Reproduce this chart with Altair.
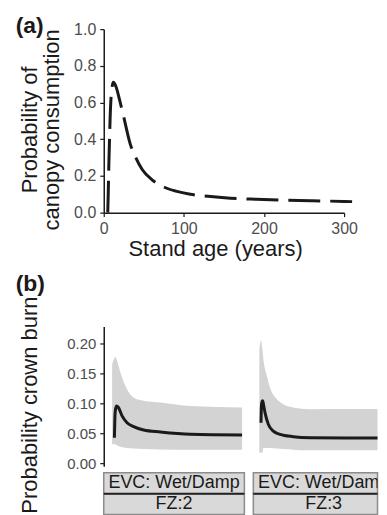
import altair as alt
import pandas as pd

# ---------------- data ----------------
# Panel (a): probability of canopy consumption vs stand age
AGE_A = [5.0, 5.6, 6.3, 7.1, 8.0, 9.0, 10.3, 12.0, 15.0, 20.0, 25.0, 33.0, 40.0, 48.0,
         60.0, 75.0, 90.0, 108.0, 130.0, 158.0, 190.0, 220.0, 260.0, 300.0, 310.0]
PROB_A = [0.0, 0.10, 0.25, 0.38, 0.52, 0.62, 0.68, 0.71, 0.69, 0.61, 0.52, 0.375, 0.30, 0.235,
          0.18, 0.14, 0.117, 0.10, 0.089, 0.079, 0.073, 0.069, 0.065, 0.061, 0.060]

# Panel (b): probability of crown burn, two facets
BAND1_AGE = [13.5, 17.0, 20.7, 25.0, 31.7, 46.4, 61.0, 83.0, 120.0, 186.0, 300.0]
BAND1_LO = [0.032, 0.032, 0.032, 0.030, 0.028, 0.026, 0.025, 0.024, 0.0235, 0.023, 0.023]
BAND1_HI = [0.166, 0.174, 0.178, 0.170, 0.152, 0.124, 0.110, 0.105, 0.102, 0.096, 0.0936]
LINE1_AGE = [18.5, 19.5, 21.0, 23.5, 27.0, 35.4, 46.4, 61.0, 83.0, 120.0, 186.0, 300.0]
LINE1_P = [0.043, 0.075, 0.091, 0.0963, 0.094, 0.0795, 0.068, 0.0617, 0.056, 0.0526, 0.0487, 0.0476]

BAND2_AGE = [8.2, 11.9, 15.0, 17.0, 24.5, 31.7, 46.4, 61.0, 83.0, 120.0, 200.0, 300.0]
BAND2_LO = [0.018, 0.018, 0.018, 0.026, 0.026, 0.026, 0.025, 0.024, 0.023, 0.022, 0.022, 0.022]
BAND2_HI = [0.19, 0.2056, 0.19, 0.175, 0.147, 0.127, 0.1076, 0.099, 0.0936, 0.0908, 0.091, 0.091]
LINE2_AGE = [11.9, 12.5, 13.5, 15.6, 17.5, 20.7, 28.0, 39.0, 53.7, 83.0, 120.0, 200.0, 300.0]
LINE2_P = [0.068, 0.09, 0.101, 0.1047, 0.098, 0.085, 0.0655, 0.054, 0.0487, 0.0448, 0.043, 0.0425, 0.0428]

STRIP_TOP = ["EVC: Wet/Damp", "EVC: Wet/Damp"]
STRIP_BOTTOM = ["FZ:2", "FZ:3"]

A_TICKS_X = [0, 100, 200, 300]
A_TICKS_Y = [0.0, 0.2, 0.4, 0.6, 0.8, 1.0]
B_TICKS_Y = [0.0, 0.05, 0.10, 0.15, 0.20]

# ---------------- style ----------------
FONT = "Liberation Sans"
INK = "#1a1a1a"
LABEL = "#4d4d4d"
BAND = "#d3d3d3"
STRIP_FILL = "#d9d9d9"
STRIP_EDGE = "#8c8c8c"

W_A, H_A = 241, 184
W_B, H_B = 141, 140
W_B2 = 124.5          # second facet is cut by the right edge of the figure
STRIP_H = 42
AGE_PER_PX = 310 / W_B

axis_style = dict(domainColor=INK, domainWidth=1.5, tickColor=INK, tickWidth=1.2, tickSize=4,
                  labelColor=LABEL, labelFont=FONT, titleFont=FONT, titleFontSize=22,
                  titleFontWeight="normal", titleColor=INK, grid=False, labelPadding=4,
                  labelFlush=False)

# ---------------- panel (a) ----------------
df_a = pd.DataFrame({"age": AGE_A, "prob": PROB_A})
line_a = alt.Chart(df_a).mark_line(color=INK, strokeWidth=3, strokeDash=[32, 10],
                                   interpolate="monotone", clip=False).encode(
    x=alt.X("age:Q", scale=alt.Scale(domain=[0, 300], nice=False),
            axis=alt.Axis(values=A_TICKS_X, title="Stand age (years)", titleX=111.7, titleY=26,
                          labelFontSize=16, **axis_style)),
    y=alt.Y("prob:Q", scale=alt.Scale(domain=[0, 1], nice=False),
            axis=alt.Axis(values=A_TICKS_Y, format=".1f",
                          title=["Probability of", "canopy consumption"],
                          titleX=-62, titleY=100.5, titleLineHeight=22,
                          labelFontSize=16, **axis_style)),
)
tag_a = alt.Chart(pd.DataFrame({"t": ["(a)"]})).mark_text(
    font=FONT, fontSize=23, fontWeight="bold", color=INK, align="left", baseline="top"
).encode(x=alt.value(-88.3), y=alt.value(-14), text="t:N")
panel_a = alt.layer(line_a, tag_a).properties(width=W_A, height=H_A)

# ---------------- panel (b) ----------------
yb = alt.Scale(domain=[-0.0045, 0.229], nice=False)


def y_axis_b(show):
    if not show:
        return None
    return alt.Axis(values=B_TICKS_Y, format=".2f", title="Probability crown burn",
                    titleX=-62, titleY=78.3, labelFontSize=15, **axis_style)


def facet_panel(b_age, lo, hi, l_age, lp, show_axis, width, tag=None):
    xb = alt.Scale(domain=[-5, -5 + width * AGE_PER_PX], nice=False)
    dfb = pd.DataFrame({"age": b_age, "lo": lo, "hi": hi})
    dfl = pd.DataFrame({"age": l_age, "p": lp})
    ax = y_axis_b(show_axis)
    band = alt.Chart(dfb).mark_area(color=BAND, interpolate="monotone", clip=True).encode(
        x=alt.X("age:Q", scale=xb, axis=None),
        y=alt.Y("lo:Q", scale=yb, axis=ax, title="Probability crown burn"),
        y2="hi:Q",
    )
    line = alt.Chart(dfl).mark_line(color=INK, strokeWidth=3, interpolate="monotone",
                                    clip=True).encode(
        x=alt.X("age:Q", scale=xb, axis=None),
        y=alt.Y("p:Q", scale=yb, axis=ax, title="Probability crown burn"),
    )
    layers = [band, line]
    if tag:
        layers.append(alt.Chart(pd.DataFrame({"t": [tag]})).mark_text(
            font=FONT, fontSize=23, fontWeight="bold", color=INK, align="left", baseline="top"
        ).encode(x=alt.value(-88.3), y=alt.value(-54), text="t:N"))
    return alt.layer(*layers).properties(width=width, height=H_B)


def strip(top, bottom, width):
    df = pd.DataFrame({"row": ["r1", "r2"], "label": [top, bottom]})
    base = alt.Chart(df).encode(
        y=alt.Y("row:N", scale=alt.Scale(domain=["r1", "r2"], paddingInner=0, paddingOuter=0),
                axis=None))
    rect = base.mark_rect(fill=STRIP_FILL, stroke=STRIP_EDGE, strokeWidth=1.5).encode(
        x=alt.value(0), x2=alt.value(width))
    text = base.mark_text(font=FONT, fontSize=18, color=INK, baseline="middle",
                          clip=True).encode(x=alt.value(W_B / 2), text="label:N")
    div = alt.Chart(df.iloc[:1]).mark_rule(color="#222222", strokeWidth=2).encode(
        x=alt.value(0), x2=alt.value(width), y=alt.value(STRIP_H / 2))
    return alt.layer(rect, div, text).properties(width=width, height=STRIP_H)


p1 = facet_panel(BAND1_AGE, BAND1_LO, BAND1_HI, LINE1_AGE, LINE1_P, True, W_B, "(b)")
p2 = facet_panel(BAND2_AGE, BAND2_LO, BAND2_HI, LINE2_AGE, LINE2_P, False, W_B2)
s1 = strip(STRIP_TOP[0], STRIP_BOTTOM[0], W_B)
s2 = strip(STRIP_TOP[1], STRIP_BOTTOM[1], W_B2)
grid_b = alt.concat(p1, p2, s1, s2, columns=2, spacing={"row": 6.6, "column": 9},
                    bounds="flush")

chart = alt.vconcat(panel_a, grid_b, spacing=114.2, bounds="flush").properties(
    padding={"left": 7, "top": 6.5, "right": 0, "bottom": 0}
).configure_view(strokeWidth=0).resolve_scale(x="independent", y="independent")

chart.save("out.html", embed_options={"renderer": "svg", "actions": False})
